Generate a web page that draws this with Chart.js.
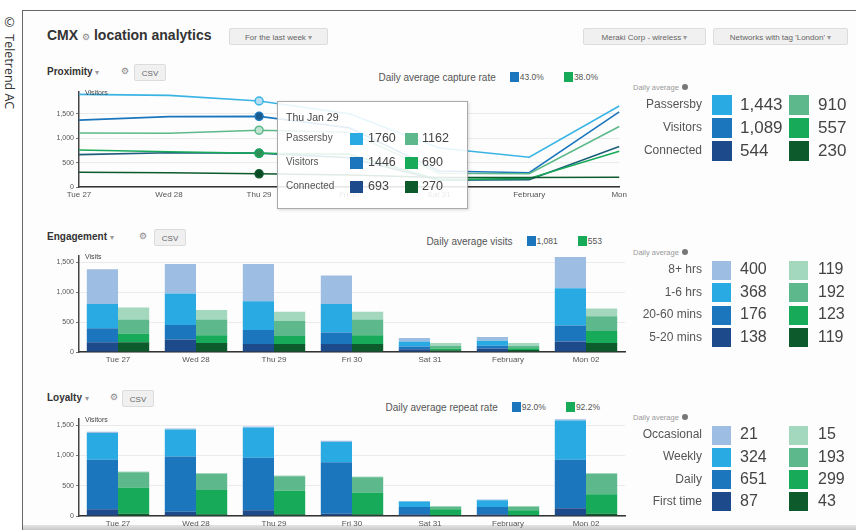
<!DOCTYPE html>
<html>
<head>
<meta charset="utf-8">
<script src="https://cdn.jsdelivr.net/npm/chart.js@4.4.1/dist/chart.umd.min.js"></script>
<style>
  body { margin: 0; width: 856px; height: 530px; overflow: hidden; background: #fff; position: relative;
         font-family: "Liberation Sans", Arial, sans-serif; color: #444; }
  .abs { position: absolute; }
  #credit { left: 1px; top: 14px; writing-mode: vertical-rl; font-family: "Open Sans", "DejaVu Sans", sans-serif;
            font-size: 12.5px; color: #333; }
  #frame { left: 22px; top: 10px; width: 834px; height: 520px; box-sizing: border-box;
           border-left: 1.5px solid #666; border-top: 1.5px solid #666; background: #fdfdfd; }
  #bottomband { left: 23px; top: 525px; width: 833px; height: 5px; background: linear-gradient(#e4e4e4, #c9c9c9); }
  .title { font-weight: bold; font-size: 14px; color: #333; white-space: nowrap; }
  .sec { font-weight: bold; font-size: 10px; color: #333; white-space: nowrap; }
  .caret { font-weight: normal; color: #999; font-size: 8px; }
  .gear { font-family: "DejaVu Sans", sans-serif; font-size: 9px; color: #888; }
  .btn { height: 17px; line-height: 17px; background: #f0f0f0; border: 1px solid #dcdcdc; border-radius: 2px;
         font-size: 8px; color: #666; text-align: center; white-space: nowrap; box-sizing: border-box; }
  .leg { font-size: 8.5px; color: #555; white-space: nowrap; display: flex; align-items: center; height: 12px; }
  .leg .lt { font-size: 10px; margin-right: 14px; }
  .leg .sw { display: inline-block; width: 9px; height: 10px; margin: 0 1px 0 0; }
  .leg .gap { display: inline-block; width: 20px; }
  .avgcap { font-size: 7.5px; color: #999; white-space: nowrap; }
  .avgcap .dot { display: inline-block; width: 6px; height: 6px; border-radius: 50%; background: #777; margin-left: 3px; }
  .plab { text-align: right; color: #555; white-space: nowrap; }
  .pval { color: #444; white-space: nowrap; }
  #tip { left: 277px; top: 101px; width: 191px; height: 108px; box-sizing: border-box; background: rgba(255,255,255,0.88);
         border: 1px solid #aaa; box-shadow: 1px 1px 3px rgba(0,0,0,0.15); }
  .tipt { font-size: 10.5px; color: #444; white-space: nowrap; }
  .tipl { font-size: 10px; color: #555; white-space: nowrap; }
  .tipv { font-size: 12.5px; color: #444; white-space: nowrap; }
</style>
</head>
<body>
<div id="credit" class="abs">© Teletrend AC</div>
<div id="frame" class="abs"></div>
<div id="bottomband" class="abs"></div>

<div class="abs title" style="left:47px;top:27px">CMX <span class="gear">⚙</span> location analytics</div>
<div class="abs btn" style="left:229px;top:28px;width:99px">For the last week <span class="caret">▾</span></div>
<div class="abs btn" style="left:583px;top:28px;width:123px">Meraki Corp - wireless <span class="caret">▾</span></div>
<div class="abs btn" style="left:713px;top:28px;width:135px">Networks with tag 'London' <span class="caret">▾</span></div>

<div class="abs sec" style="left:47px;top:66px">Proximity <span class="caret">▾</span></div>
<div class="abs gear" style="left:121px;top:66px">⚙</div>
<div class="abs btn" style="left:134px;top:64px;width:32px">CSV</div>

<div class="abs sec" style="left:47px;top:231px">Engagement <span class="caret">▾</span></div>
<div class="abs gear" style="left:139px;top:231px">⚙</div>
<div class="abs btn" style="left:154px;top:229px;width:32px">CSV</div>

<div class="abs sec" style="left:47px;top:392px">Loyalty <span class="caret">▾</span></div>
<div class="abs gear" style="left:110px;top:392px">⚙</div>
<div class="abs btn" style="left:122px;top:390px;width:32px">CSV</div>

<div id="legProx" class="abs leg" style="right:258px;top:71px"></div>
<div id="legEng" class="abs leg" style="right:254px;top:235px"></div>
<div id="legLoy" class="abs leg" style="right:256px;top:401px"></div>

<canvas id="prox" class="abs" width="590" height="114" style="left:40px;top:86px"></canvas>
<canvas id="eng" class="abs" width="590" height="115" style="left:40px;top:250px"></canvas>
<canvas id="loy" class="abs" width="590" height="116" style="left:40px;top:413px"></canvas>

<div id="tip" class="abs"></div>

<script>
// x categories
const days = ["Tue 27", "Wed 28", "Thu 29", "Fri 30", "Sat 31", "February", "Mon 02"];
const proxDays = ["Tue 27", "Wed 28", "Thu 29", "Fri 30", "Sat 31", "February", "Mon"];
const yTicks = [0, 500, 1000, 1500];

// proximity (visitors per day)
const passersbyBlue = [1896, 1876, 1760, 1500, 798, 608, 1659];
const visitorsBlue = [1368, 1441, 1446, 1213, 327, 291, 1537];
const connectedBlue = [663, 700, 693, 600, 140, 150, 831];
const passersbyGreen = [1104, 1100, 1162, 1120, 280, 270, 1238];
const visitorsGreen = [758, 720, 690, 670, 150, 175, 730];
const connectedGreen = [303, 291, 270, 247, 195, 195, 200];
const hoverIndex = 2;
const hoverTitle = "Thu Jan 29";

// engagement (visits, stacked by dwell time)
const eng520Blue = [163, 209, 134, 134, 47, 58, 174];
const eng2060Blue = [232, 244, 232, 192, 46, 47, 268];
const eng16Blue = [407, 524, 483, 476, 81, 81, 622];
const eng8Blue = [582, 494, 622, 477, 59, 64, 523];
const eng520Green = [163, 151, 134, 134, 29, 35, 151];
const eng2060Green = [145, 128, 133, 145, 29, 29, 198];
const eng16Green = [233, 262, 256, 262, 47, 41, 250];
const eng8Green = [203, 162, 151, 133, 46, 46, 128];

// loyalty (visitors, stacked by visit frequency)
const loyFirstBlue = [111, 72, 94, 39, 28, 28, 128];
const loyDailyBlue = [817, 911, 867, 850, 122, 122, 800];
const loyWeeklyBlue = [444, 445, 500, 333, 89, 111, 650];
const loyOccBlue = [20, 20, 20, 20, 10, 10, 25];
const loyFirstGreen = [39, 28, 28, 28, 17, 17, 39];
const loyDailyGreen = [433, 400, 389, 361, 94, 77, 322];
const loyWeeklyGreen = [250, 266, 239, 250, 45, 62, 333];
const loyOccGreen = [15, 15, 15, 15, 5, 5, 15];

// headline rates
const captureRate = ["43.0%", "38.0%"];
const visitRate = ["1,081", "553"];
const repeatRate = ["92.0%", "92.2%"];

// daily averages (right side)
const proxAvgLabels = ["Passersby", "Visitors", "Connected"];
const proxAvgBlue = ["1,443", "1,089", "544"];
const proxAvgGreen = ["910", "557", "230"];
const engAvgLabels = ["8+ hrs", "1-6 hrs", "20-60 mins", "5-20 mins"];
const engAvgBlue = ["400", "368", "176", "138"];
const engAvgGreen = ["119", "192", "123", "119"];
const loyAvgLabels = ["Occasional", "Weekly", "Daily", "First time"];
const loyAvgBlue = ["21", "324", "651", "87"];
const loyAvgGreen = ["15", "193", "299", "43"];

const paleBlue = "#9dbde2", cyan = "#2aaae2", midBlue = "#1b76bd", navy = "#1c4a8a";
const paleGreen = "#a3d8bf", softGreen = "#5db98b", green = "#17aa58", darkGreen = "#0d5a2d";
const font = "'Liberation Sans', Arial, sans-serif";

// legends above the charts
function legend(id, text, vals) {
    document.getElementById(id).innerHTML =
        `<span class="lt">${text}</span>` +
        `<span class="sw" style="background:${midBlue}"></span><span>${vals[0]}</span><span class="gap"></span>` +
        `<span class="sw" style="background:${green}"></span><span>${vals[1]}</span>`;
}
legend("legProx", "Daily average capture rate", captureRate);
legend("legEng", "Daily average visits", visitRate);
legend("legLoy", "Daily average repeat rate", repeatRate);

// daily average panels
function panel(top, rowH, sq, fs, labels, blue, greenVals, blueCols, greenCols) {
    let html = `<div class="abs avgcap" style="left:633px;top:${top - 6}px">Daily average<span class="dot"></span></div>`;
    labels.forEach((lab, i) => {
        const cy = top + 16 + i * rowH;
        html += `<div class="abs plab" style="left:600px;width:102px;top:${cy - 8}px;font-size:12px">${lab}</div>`;
        html += `<div class="abs" style="left:712px;top:${cy - sq / 2}px;width:${sq}px;height:${sq}px;background:${blueCols[i]}"></div>`;
        html += `<div class="abs pval" style="left:740px;top:${cy - fs * 0.6}px;font-size:${fs}px">${blue[i]}</div>`;
        html += `<div class="abs" style="left:789px;top:${cy - sq / 2}px;width:${sq}px;height:${sq}px;background:${greenCols[i]}"></div>`;
        html += `<div class="abs pval" style="left:818px;top:${cy - fs * 0.6}px;font-size:${fs}px">${greenVals[i]}</div>`;
    });
    document.body.insertAdjacentHTML("beforeend", html);
}
panel(89, 23, 20, 17, proxAvgLabels, proxAvgBlue, proxAvgGreen, [cyan, midBlue, navy], [softGreen, green, darkGreen]);
panel(254, 22.5, 19, 16, engAvgLabels, engAvgBlue, engAvgGreen,
      [paleBlue, cyan, midBlue, navy], [paleGreen, softGreen, green, darkGreen]);
panel(419, 22.3, 19, 16, loyAvgLabels, loyAvgBlue, loyAvgGreen,
      [paleBlue, cyan, midBlue, navy], [paleGreen, softGreen, green, darkGreen]);

// hover box over Thu 29
const tipRows = [
    ["Passersby", passersbyBlue, passersbyGreen, cyan, softGreen],
    ["Visitors", visitorsBlue, visitorsGreen, midBlue, green],
    ["Connected", connectedBlue, connectedGreen, navy, darkGreen],
];
let tipHtml = `<div class="abs tipt" style="left:8px;top:9px">${hoverTitle}</div>`;
tipRows.forEach(([lab, b, g, cb, cg], i) => {
    const cy = 37 + i * 24;
    tipHtml += `<div class="abs tipl" style="left:8px;top:${cy - 7}px">${lab}</div>`;
    tipHtml += `<div class="abs" style="left:72px;top:${cy - 6}px;width:13px;height:12px;background:${cb}"></div>`;
    tipHtml += `<div class="abs tipv" style="left:90px;top:${cy - 8}px">${b[hoverIndex]}</div>`;
    tipHtml += `<div class="abs" style="left:127px;top:${cy - 6}px;width:13px;height:12px;background:${cg}"></div>`;
    tipHtml += `<div class="abs tipv" style="left:144px;top:${cy - 8}px">${g[hoverIndex]}</div>`;
});
document.getElementById("tip").innerHTML = tipHtml;

const axisCaption = {
    id: "axisCaption",
    afterDraw: (chart, args, options) => {
        const { ctx, chartArea } = chart;
        ctx.save();
        ctx.font = `7px ${font}`;
        ctx.fillStyle = "#444";
        ctx.textBaseline = "middle";
        ctx.fillText(options.text, chartArea.left + 6, chartArea.top + 1);
        ctx.restore();
    },
};

function yScale(max, stacked) {
    return {
        stacked,
        min: 0,
        max,
        ticks: { color: "#555", font: { size: 7, family: font }, padding: 2, autoSkip: false },
        afterBuildTicks: (s) => { s.ticks = yTicks.map((v) => ({ value: v })); },
        afterFit: (s) => { s.width = 39; },
        grid: { color: "#ebebeb", tickLength: 3, tickColor: "#777" },
        border: { color: "#444", width: 1.5 },
    };
}

function xScale(stacked) {
    return {
        stacked,
        grid: { display: false, drawTicks: false },
        border: { color: "#333", width: 1.5 },
        ticks: { color: "#555", font: { size: 8, family: font }, autoSkip: false, maxRotation: 0, padding: 3 },
        afterFit: (s) => { s.height = 13; },
    };
}

function lineSet(data, color, fill) {
    return {
        data,
        borderColor: color,
        borderWidth: 1.6,
        tension: 0,
        pointRadius: data.map((v, i) => (i === hoverIndex ? 4 : 0)),
        pointBackgroundColor: fill,
        pointBorderColor: color,
        pointBorderWidth: 1.5,
    };
}

new Chart(document.getElementById("prox"), {
    type: "line",
    data: {
        labels: proxDays,
        datasets: [
            lineSet(connectedGreen, darkGreen, "#0a4a24"),
            lineSet(visitorsGreen, green, "#2f8f5a"),
            lineSet(connectedBlue, "#1d5d7a", "#23606f"),
            lineSet(passersbyGreen, softGreen, "#bfe3cf"),
            lineSet(visitorsBlue, midBlue, "#1b5a8c"),
            lineSet(passersbyBlue, "#3ab4e4", "#b5def2"),
        ],
    },
    options: {
        responsive: false,
        animation: false,
        layout: { padding: { top: 5, right: 8, left: 0, bottom: 0 } },
        scales: { x: xScale(false), y: yScale(1940, false) },
        plugins: { legend: { display: false }, tooltip: { enabled: false }, axisCaption: { text: "Visitors" } },
    },
    plugins: [axisCaption],
});

function barSet(data, color, stack) {
    return { data, backgroundColor: color, stack, borderWidth: 0, categoryPercentage: 0.8, barPercentage: 1.0 };
}

function barChart(id, caption, sets) {
    return new Chart(document.getElementById(id), {
        type: "bar",
        data: { labels: days, datasets: sets },
        options: {
            responsive: false,
            animation: false,
            layout: { padding: { top: 6, right: 5, left: 0, bottom: 0 } },
            scales: { x: xScale(true), y: yScale(1600, true) },
            plugins: { legend: { display: false }, tooltip: { enabled: false }, axisCaption: { text: caption } },
        },
        plugins: [axisCaption],
    });
}

barChart("eng", "Visits", [
    barSet(eng520Blue, navy, "blue"),
    barSet(eng2060Blue, midBlue, "blue"),
    barSet(eng16Blue, cyan, "blue"),
    barSet(eng8Blue, paleBlue, "blue"),
    barSet(eng520Green, darkGreen, "green"),
    barSet(eng2060Green, green, "green"),
    barSet(eng16Green, softGreen, "green"),
    barSet(eng8Green, paleGreen, "green"),
]);

barChart("loy", "Visitors", [
    barSet(loyFirstBlue, navy, "blue"),
    barSet(loyDailyBlue, midBlue, "blue"),
    barSet(loyWeeklyBlue, cyan, "blue"),
    barSet(loyOccBlue, paleBlue, "blue"),
    barSet(loyFirstGreen, darkGreen, "green"),
    barSet(loyDailyGreen, green, "green"),
    barSet(loyWeeklyGreen, softGreen, "green"),
    barSet(loyOccGreen, paleGreen, "green"),
]);
</script>
</body>
</html>
